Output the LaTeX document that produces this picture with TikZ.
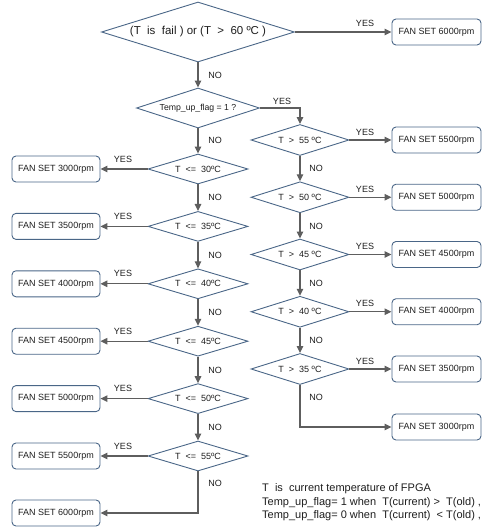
\documentclass[tikz,border=0pt]{standalone}
\usepackage{fontspec}
\setmainfont{Liberation Sans}
\usetikzlibrary{shapes.geometric,arrows.meta}
\definecolor{diacol}{HTML}{4A6687}
\definecolor{arrcol}{HTML}{5E5E5E}
\definecolor{txtcol}{HTML}{1E1E1E}
\begin{document}
\begin{tikzpicture}[x=1pt,y=-1pt,
  every node/.style={text=txtcol},
  dia/.style={diamond, draw=diacol, line width=0.9pt, inner sep=0pt, aspect=3.3,
    font=\fontsize{9}{10}\selectfont, minimum width=100pt, minimum height=30pt},
  fanbox/.style={rectangle, rounded corners=4pt, draw=diacol, line width=0.9pt,
    minimum width=88pt, minimum height=26pt, inner sep=0pt, font=\fontsize{9}{10}\selectfont},
  arr/.style={draw=arrcol, line width=1.2pt, -{Triangle[length=7pt,width=6.5pt]}},
  lbl/.style={font=\fontsize{9}{10}\selectfont, inner sep=0pt}]
\useasboundingbox (0,0) rectangle (500,530);

% top decisions
\node[dia, minimum width=193pt, minimum height=60pt, aspect=3.2, font=\fontsize{11.5}{13}\selectfont] (d0) at (198,32) {(T~ is~ fail ) or (T~ >~ 60 ºC )};
\node[fanbox, minimum width=89pt] (b0) at (436.5,32) {FAN SET 6000rpm};
\node[dia, minimum width=123pt, minimum height=40pt, aspect=3, font=\fontsize{8.7}{10}\selectfont] (d1) at (198,108) {Temp\_up\_flag = 1 ?};

% left column
\node[dia] (l1) at (198,169) {T~ <=~ 30ºC};
\node[dia] (l2) at (198,226.4) {T~ <=~ 35ºC};
\node[dia] (l3) at (198,283.8) {T~ <=~ 40ºC};
\node[dia] (l4) at (198,341.2) {T~ <=~ 45ºC};
\node[dia] (l5) at (198,398.6) {T~ <=~ 50ºC};
\node[dia] (l6) at (198,456) {T~ <=~ 55ºC};
\node[fanbox] (lb1) at (56,169) {FAN SET 3000rpm};
\node[fanbox] (lb2) at (56,226.4) {FAN SET 3500rpm};
\node[fanbox] (lb3) at (56,283.8) {FAN SET 4000rpm};
\node[fanbox] (lb4) at (56,341.2) {FAN SET 4500rpm};
\node[fanbox] (lb5) at (56,398.6) {FAN SET 5000rpm};
\node[fanbox] (lb6) at (56,456) {FAN SET 5500rpm};
\node[fanbox] (lb7) at (56,513) {FAN SET 6000rpm};
\coordinate (lc) at (198,513);

% right column
\node[dia, minimum width=98pt, minimum height=31pt] (r1) at (300,140) {T~ >~ 55 ºC};
\node[dia, minimum width=98pt, minimum height=31pt] (r2) at (300,197.25) {T~ >~ 50 ºC};
\node[dia, minimum width=98pt, minimum height=31pt] (r3) at (300,254.5) {T~ >~ 45 ºC};
\node[dia, minimum width=98pt, minimum height=31pt] (r4) at (300,311.75) {T~ >~ 40 ºC};
\node[dia, minimum width=98pt, minimum height=31pt] (r5) at (300,369) {T~ >~ 35 ºC};
\node[fanbox, minimum width=89pt] (rb1) at (436.5,140) {FAN SET 5500rpm};
\node[fanbox, minimum width=89pt] (rb2) at (436.5,197.25) {FAN SET 5000rpm};
\node[fanbox, minimum width=89pt] (rb3) at (436.5,254.5) {FAN SET 4500rpm};
\node[fanbox, minimum width=89pt] (rb4) at (436.5,311.75) {FAN SET 4000rpm};
\node[fanbox, minimum width=89pt] (rb5) at (436.5,369) {FAN SET 3500rpm};
\node[fanbox, minimum width=89pt] (rb6) at (436.5,427) {FAN SET 3000rpm};
\coordinate (rc) at (300,427);
\coordinate (tc) at (300,108);

% connectors top
\draw[arr] (d0.east) -- (b0.west);
\node[lbl] (y0) at (365,23) {YES};
\draw[arr] (d0.south) -- (d1.north);
\node[lbl] (n0) at (215,75) {NO};
\draw[arr] (d1.east) -- (tc) -- (r1.north);
\node[lbl] (y1) at (282,101) {YES};
\draw[arr] (d1.south) -- (l1.north);
\node[lbl] (n1) at (215,140) {NO};

% left column connectors
\foreach \i in {1,...,6} {
  \draw[arr] (l\i.west) -- (lb\i.east);
}
\foreach \i/\yy in {1/169,2/226.4,3/283.8,4/341.2,5/398.6,6/456} {
  \node[lbl] (ly\i) at (123,\yy-10) {YES};
}
\foreach \i/\j/\yy in {1/2/197.7,2/3/255.1,3/4/312.5,4/5/369.9,5/6/427.3} {
  \draw[arr] (l\i.south) -- (l\j.north);
  \node[lbl] (ln\i) at (215,\yy) {NO};
}
\draw[arr] (l6.south) -- (lc) -- (lb7.east);
\node[lbl] (ln6) at (215,483) {NO};

% right column connectors
\foreach \i in {1,...,5} {
  \draw[arr] (r\i.east) -- (rb\i.west);
}
\foreach \i/\yy in {1/140,2/197.25,3/254.5,4/311.75,5/369} {
  \node[lbl] (ry\i) at (365,\yy-8) {YES};
}
\foreach \i/\j/\yy in {1/2/168.6,2/3/225.9,3/4/283.1,4/5/340.4} {
  \draw[arr] (r\i.south) -- (r\j.north);
  \node[lbl] (rn\i) at (316,\yy) {NO};
}
\draw[arr] (r5.south) -- (rc) -- (rb6.west);
\node[lbl] (rn5) at (316,397) {NO};

% notes
\node[anchor=west, align=left, inner sep=0pt, font=\fontsize{11}{13.5}\selectfont] (note) at (262,502.5)
  {T~ is~ current temperature of FPGA\\
   Temp\_up\_flag= 1 when~ T(current) >~ T(old) ,\\
   Temp\_up\_flag= 0 when~ T(current)~ < T(old) ,};
\end{tikzpicture}
\end{document}
